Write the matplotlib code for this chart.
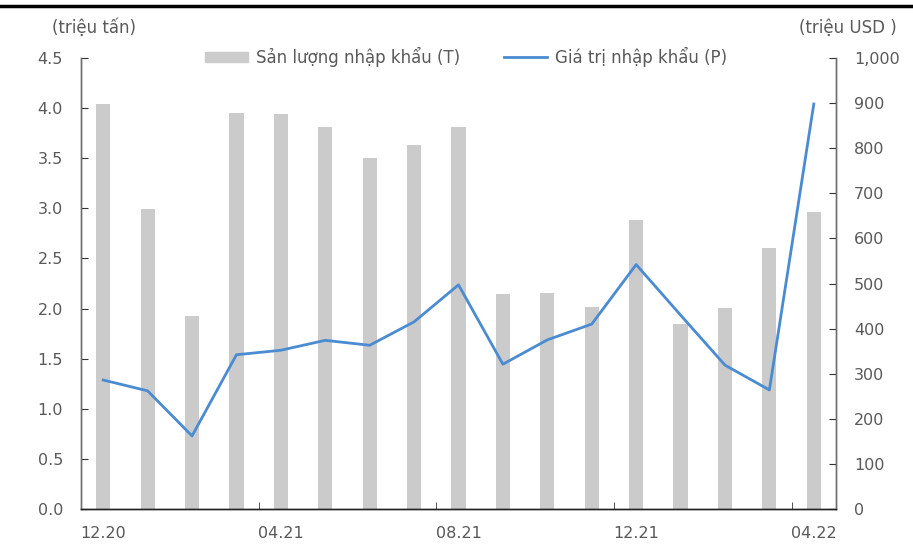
import matplotlib
matplotlib.use("Agg")
import matplotlib.pyplot as plt
from matplotlib.ticker import FuncFormatter, FixedLocator
from matplotlib.lines import Line2D
import numpy as np

# Monthly import volume (million tonnes) and value (million USD)
months = ["12.20", "01.21", "02.21", "03.21", "04.21", "05.21", "06.21", "07.21",
          "08.21", "09.21", "10.21", "11.21", "12.21", "01.22", "02.22", "03.22", "04.22"]
volume = [4.04, 2.99, 1.93, 3.95, 3.94, 3.81, 3.50, 3.63,
          3.81, 2.15, 2.16, 2.02, 2.88, 1.85, 2.01, 2.60, 2.96]
value = [286, 262, 162, 342, 352, 374, 363, 415,
         497, 321, 375, 410, 542, 430, 319, 264, 898]
shown_labels = ["12.20", "04.21", "08.21", "12.21", "04.22"]

volume_name = "Sản lượng nhập khẩu (T)"
value_name = "Giá trị nhập khẩu (P)"
left_unit = "(triệu tấn)"
right_unit = "(triệu USD )"

text_col = "#595959"
bar_col = "#cbcbcb"
line_col = "#4a8bd1"
axis_col = "#6e6e6e"
tick_fs = 11.5
label_fs = 12

plt.rcParams["font.family"] = ["DejaVu Sans"]

fig = plt.figure(figsize=(9.13, 5.48), dpi=100)
ax = fig.add_axes([81 / 913, 1 - 509 / 548, (836 - 81) / 913, (509 - 58) / 548])
ax2 = ax.twinx()

x = np.arange(len(months))
ax.bar(x, volume, width=0.32, color=bar_col, zorder=2)
ax2.plot(x, value, color=line_col, lw=2.0, zorder=3)

ax.set_xlim(-0.5, len(months) - 0.5)
ax.set_ylim(0, 4.5)
ax2.set_ylim(0, 1000)

ax.set_yticks(np.arange(0, 4.51, 0.5))
ax.yaxis.set_major_formatter(FuncFormatter(lambda v, p: f"{v:.1f}"))
ax2.set_yticks(np.arange(0, 1001, 100))
ax2.yaxis.set_major_formatter(FuncFormatter(lambda v, p: f"{v:,.0f}"))

# category labels every fourth month, tick marks on the boundaries between groups
label_pos = [months.index(m) for m in shown_labels]
ax.set_xticks(label_pos)
ax.set_xticklabels(shown_labels)
ax.tick_params(axis="x", length=0, pad=12, labelcolor=text_col, labelsize=tick_fs)
ax.xaxis.set_minor_locator(FixedLocator([3.5, 7.5, 11.5, 15.5]))
ax.tick_params(axis="x", which="minor", direction="in", length=5, color="#333333")

ax.tick_params(axis="y", direction="in", length=5, color="#333333", labelcolor=text_col,
               labelsize=tick_fs, pad=13)
ax2.tick_params(axis="y", direction="in", length=5, color="#333333", labelcolor=text_col,
                labelsize=tick_fs, pad=13)

for a in (ax, ax2):
    a.spines["top"].set_visible(False)
    a.spines["left"].set_color(axis_col)
    a.spines["right"].set_color(axis_col)
    a.spines["bottom"].set_color("#222222")
    for s in ("left", "right", "bottom"):
        a.spines[s].set_linewidth(1.0)

handles = [plt.Rectangle((0, 0), 1, 1, color=bar_col),
           Line2D([0], [0], color=line_col, lw=2.0)]
leg = ax.legend(handles, [volume_name, value_name], loc="center",
                bbox_to_anchor=((466 - 81) / 755, (509 - 57) / 451), ncol=2,
                frameon=False, handlelength=2.6, handleheight=0.6,
                columnspacing=2.6, handletextpad=0.5, fontsize=label_fs,
                borderpad=0)
for t in leg.get_texts():
    t.set_color(text_col)

fig.text(52 / 913, 1 - 28 / 548, left_unit, color=text_col, fontsize=label_fs,
         ha="left", va="center")
fig.text(897 / 913, 1 - 28 / 548, right_unit, color=text_col, fontsize=label_fs,
         ha="right", va="center")

# heavy rule across the top of the figure
fig.add_artist(Line2D([0, 1], [1 - 6 / 548, 1 - 6 / 548], color="black", lw=2.5,
                      transform=fig.transFigure))

fig.savefig("out.png", dpi=100)
